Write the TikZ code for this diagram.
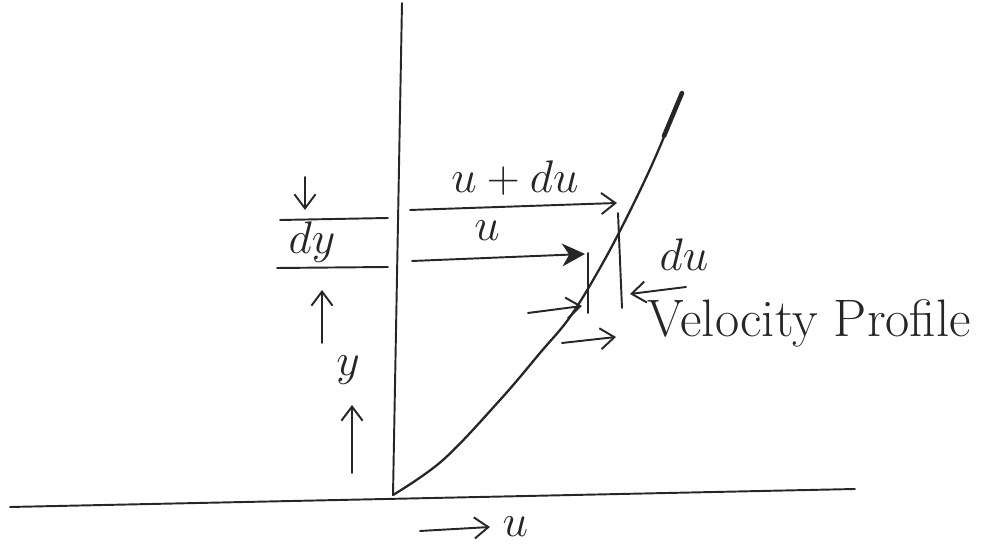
\documentclass[tikz,border=0pt]{standalone}
\usepackage{fix-cm}
\usepackage{amsmath}
\usepackage{tikz}
\usetikzlibrary{arrows.meta, positioning}

\begin{document}
\begin{tikzpicture}[
  x=0.2mm, y=-0.2mm,
  pen/.style       = {line width=1.1pt, draw=black!85, line cap=round},
  arrow/.style     = {pen, -{Straight Barb[length=8pt, width=12pt, line width=1.1pt]}},
  boldarrow/.style = {pen, -{Stealth[length=13pt, width=13pt, inset=4pt]}},
  lbl/.style       = {inner sep=1pt, font=\fontsize{26}{31}\selectfont, text=black!85},
]
\useasboundingbox (0,0) rectangle (982,544);

%% ==================== WALL AND AXIS ====================
\coordinate (wallL)  at (10,507);
\coordinate (wallR)  at (855,489);
\coordinate (origin) at (393,495);
\coordinate (axtop)  at (402,3);

\draw[pen] (wallL) -- (wallR);
\draw[pen] (origin) -- (axtop);

%% velocity profile curve
\draw[pen, line width=1.3pt] plot[smooth, tension=0.6] coordinates
      {(393,495) (443,460) (500,400) (540,353) (570,317) (600,268) (628,215) (655,158) (682,93)};
\draw[pen, line width=2.6pt] (664,136) -- (682,93);

%% ==================== VELOCITY ARROWS ====================
\coordinate (topS) at (410,210);  \coordinate (topE) at (617,203);
\coordinate (midS) at (412,261);  \coordinate (midE) at (585,254);
\coordinate (lowS) at (528,313);  \coordinate (lowE) at (582,306);
\coordinate (vpS)  at (562,343);  \coordinate (vpE)  at (616,337);

\draw[arrow]     (topS) -- (topE);
\draw[boldarrow] (midS) -- (midE);
\draw[arrow]     (lowS) -- (lowE);
\draw[arrow]     (vpS)  -- (vpE);

\node[lbl] (uplus) at (515,178) {$u + du$};
\node[lbl] (ulbl)  at (487,231) {$u$};
\node[lbl, font=\fontsize{30}{36}\selectfont, right=17pt of vpE, yshift=8pt] (vp) {Velocity Profile};

%% du marker
\coordinate (du1T) at (588,253);  \coordinate (du1B) at (588,313);
\coordinate (du2T) at (618,213);  \coordinate (du2B) at (622,308);
\coordinate (duS)  at (686,287);  \coordinate (duE)  at (630,294);

\draw[pen] (du1T) -- (du1B);
\draw[pen] (du2T) -- (du2B);
\draw[arrow] (duS) -- (duE);
\node[lbl] (dulbl) at (684,255) {$du$};

%% ==================== LEFT SIDE: dy AND y ====================
\coordinate (dyTL) at (280,220);  \coordinate (dyTR) at (388,218);
\coordinate (dyBL) at (277,268);  \coordinate (dyBR) at (388,267);
\draw[pen] (dyTL) -- (dyTR);
\draw[pen] (dyBL) -- (dyBR);
\node[lbl] (dylbl) at (312,242) {$dy$};

\coordinate (dnS) at (305,177);  \coordinate (dnE) at (305,210);
\coordinate (upS) at (322,343);  \coordinate (upE) at (322,290);
\coordinate (yS)  at (352,473);  \coordinate (yE)  at (352,405);
\draw[arrow] (dnS) -- (dnE);
\draw[arrow] (upS) -- (upE);
\draw[arrow] (yS)  -- (yE);
\node[lbl] (ylbl) at (348,370) {$y$};

%% ==================== BOTTOM: u DIRECTION ====================
\coordinate (ubS) at (420,531);  \coordinate (ubE) at (490,527);
\draw[arrow] (ubS) -- (ubE);
\node[lbl, right=6pt of ubE] (ubot) {$u$};

\end{tikzpicture}
\end{document}
